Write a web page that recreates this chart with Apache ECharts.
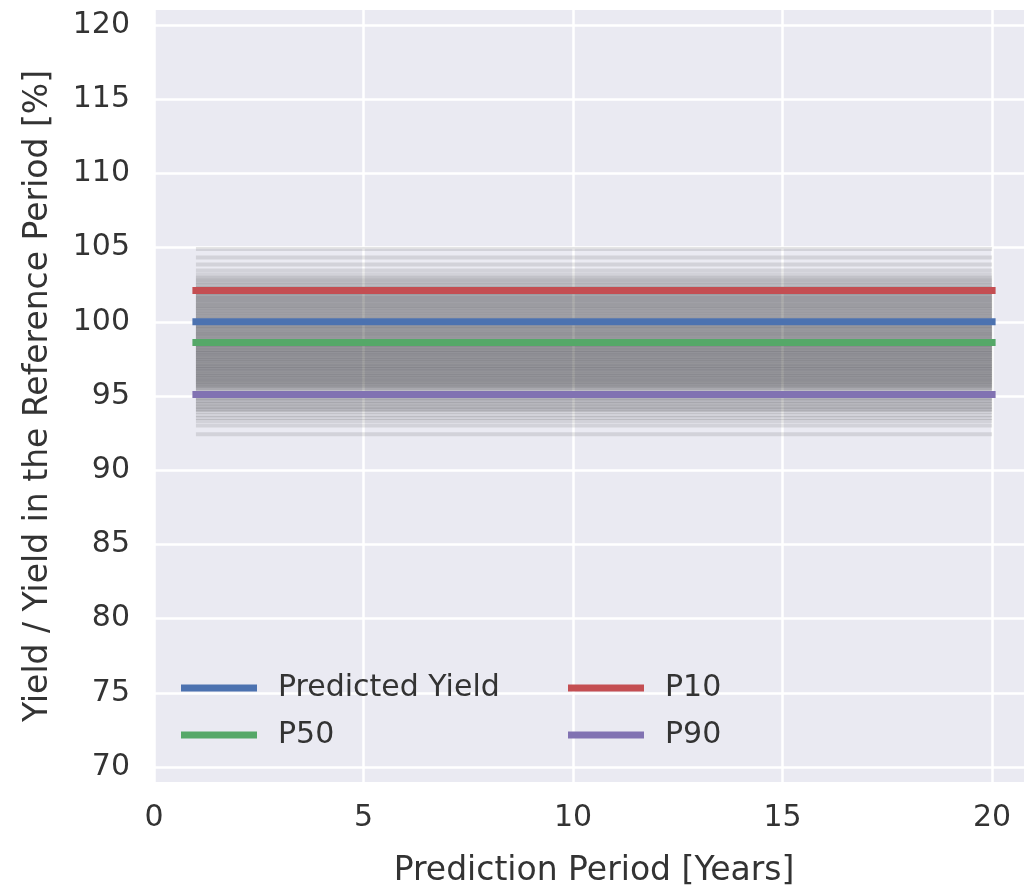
<!DOCTYPE html>
<html>
<head>
<meta charset="utf-8">
<script src="https://cdn.jsdelivr.net/npm/echarts@6/dist/echarts.min.js"></script>
<style>
  html, body { margin: 0; padding: 0; overflow: hidden; background: #ffffff; }
  #chart { width: 1034px; height: 893px; }
</style>
</head>
<body>
<div id="chart"></div>
<script>
// Prediction horizon (years) spanned by every horizontal line
const periodYears = [1, 20];

// Summary levels [% of reference-period yield]
const predictedYield = 100.0;
const p10 = 102.1;
const p50 = 98.6;
const p90 = 95.1;

// Individual scenario yields [% of reference-period yield], drawn as faint grey lines
const scenarioYields = [
  104.9, 104.33, 103.86, 103.46, 103.17,
  102.97, 102.86, 102.71, 102.62, 102.47, 102.38, 102.26,
  102.15, 102.05, 101.95,
  101.88, 101.79, 101.73, 101.64, 101.58, 101.5, 101.45, 101.35, 101.3, 101.21, 101.15,
  101.06, 101.01, 100.92, 100.86, 100.77, 100.71, 100.63, 100.55, 100.49, 100.4, 100.33,
  100.25, 100.19, 100.09, 100.03, 99.93, 99.87, 99.77,
  99.72, 99.64, 99.59, 99.51, 99.46, 99.38, 99.33, 99.25, 99.2, 99.12, 99.07, 98.99, 98.94, 98.86,
  98.8, 98.72, 98.67, 98.58, 98.53, 98.44,
  98.38, 98.34, 98.26, 98.22, 98.14, 98.1, 98.02, 97.98, 97.9, 97.86, 97.78, 97.74,
  97.66, 97.62, 97.54, 97.5, 97.42, 97.38, 97.3, 97.26, 97.18, 97.14, 97.06, 97.02,
  96.94, 96.9, 96.82, 96.78, 96.7, 96.66, 96.58, 96.54, 96.46, 96.42, 96.34, 96.3,
  96.22, 96.18, 96.1, 96.06, 95.98, 95.94, 95.86, 95.8, 95.74, 95.68, 95.61, 95.54,
  95.45, 95.34, 95.21, 95.09, 94.97, 94.87,
  94.78, 94.67, 94.56, 94.46, 94.35, 94.25, 94.14, 94.05,
  93.92, 93.71, 93.51, 93.31,
  93.02, 92.42
];

// Axis ticks
const xTicks = [0, 5, 10, 15, 20];
const yTicks = [70, 75, 80, 85, 90, 95, 100, 105, 110, 115, 120];

const FONT = "'DejaVu Sans', sans-serif";
const TEXT = '#333333';

const flatLine = v => periodYears.map(x => [x, v]);

const scenarioSeries = scenarioYields.map(v => ({
  type: 'line',
  data: flatLine(v),
  symbol: 'none',
  silent: true,
  z: 2,
  lineStyle: { color: 'rgba(0,0,0,0.1)', width: 4, cap: 'butt' }
}));

const summary = [
  { name: 'Predicted Yield', value: predictedYield, color: '#4c72b0' },
  { name: 'P10', value: p10, color: '#c44e52' },
  { name: 'P50', value: p50, color: '#55a868' },
  { name: 'P90', value: p90, color: '#8172b2' }
];

const summarySeries = summary.map(s => ({
  name: s.name,
  type: 'line',
  data: flatLine(s.value),
  symbol: 'none',
  z: 3,
  color: s.color,
  lineStyle: { color: s.color, width: 7, cap: 'square' }
}));

const legendCommon = {
  orient: 'vertical',
  top: 667,
  itemWidth: 76,
  itemHeight: 7,
  itemGap: 15,
  icon: 'rect',
  selectedMode: false,
  textStyle: {
    fontFamily: FONT, fontSize: 30, color: TEXT,
    lineHeight: 32, padding: [0, 0, 0, 16]
  }
};

const chart = echarts.init(document.getElementById('chart'), null, { renderer: 'canvas' });
chart.setOption({
  animation: false,
  backgroundColor: '#ffffff',
  legend: [
    Object.assign({ left: 176, data: ['Predicted Yield', 'P50'] }, legendCommon),
    Object.assign({ left: 563, data: ['P10', 'P90'] }, legendCommon)
  ],
  grid: {
    left: 154, right: 0, top: 10, bottom: 111,
    show: true, backgroundColor: '#eaeaf2', borderWidth: 0
  },
  xAxis: {
    type: 'value',
    min: 0, max: 21,
    name: 'Prediction Period [Years]',
    nameLocation: 'middle',
    nameGap: 73,
    nameTextStyle: { fontFamily: FONT, fontSize: 33, color: TEXT },
    axisLine: { show: false },
    axisTick: { show: false, customValues: xTicks },
    axisLabel: {
      customValues: xTicks,
      fontFamily: FONT, fontSize: 30, color: TEXT, margin: 21
    },
    splitLine: { show: true, lineStyle: { color: '#ffffff', width: 2.5 } }
  },
  yAxis: {
    type: 'value',
    min: 69, max: 121,
    name: 'Yield / Yield in the Reference Period [%]',
    nameLocation: 'middle',
    nameGap: 99,
    nameTextStyle: { fontFamily: FONT, fontSize: 33, color: TEXT },
    axisLine: { show: false },
    axisTick: { show: false, customValues: yTicks },
    axisLabel: {
      customValues: yTicks,
      fontFamily: FONT, fontSize: 30, color: TEXT, margin: 24
    },
    splitLine: { show: true, lineStyle: { color: '#ffffff', width: 2.5 } }
  },
  series: scenarioSeries.concat(summarySeries)
});
</script>
</body>
</html>
